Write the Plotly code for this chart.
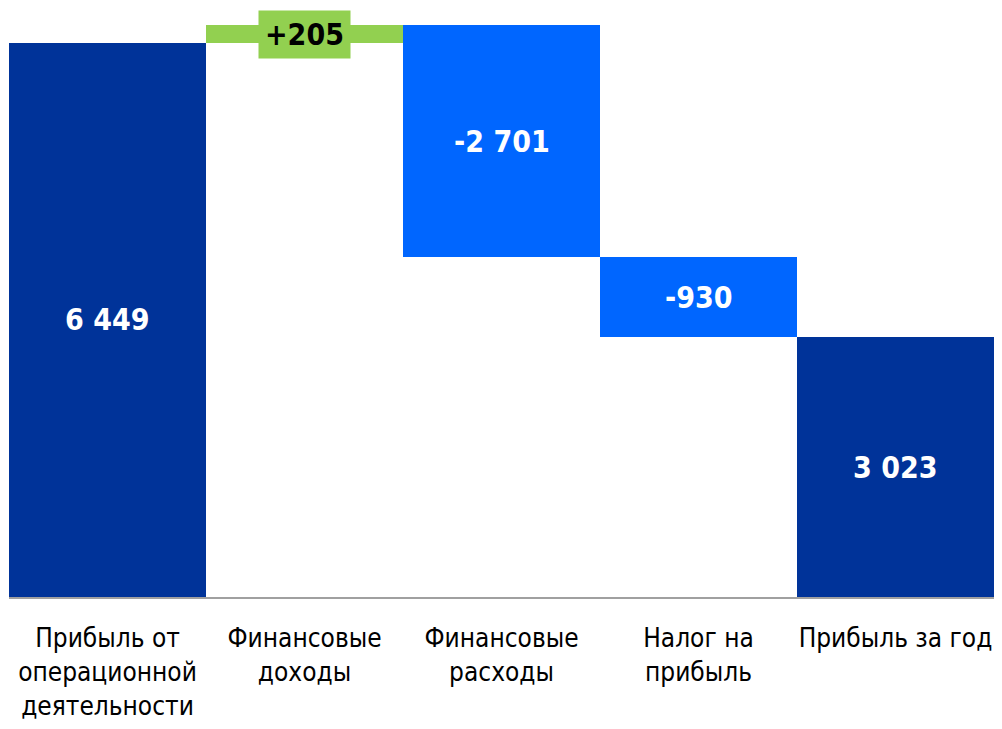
import plotly.graph_objects as go

categories = ["Прибыль от<br>операционной<br>деятельности", "Финансовые<br>доходы",
              "Финансовые<br>расходы", "Налог на<br>прибыль", "Прибыль за год"]
values = [6449, 205, -2701, -930, 3023]
measures = ["absolute", "relative", "relative", "relative", "total"]
labels = ["6 449", "+205", "-2 701", "-930", "3 023"]

FONT = "Liberation Sans Narrow, Arial Narrow, DejaVu Sans Condensed, Liberation Sans, Arial, sans-serif"

fig = go.Figure(go.Waterfall(
    x=categories, y=values, measure=measures,
    increasing=dict(marker=dict(color="#92D050")),
    decreasing=dict(marker=dict(color="#0066FF")),
    totals=dict(marker=dict(color="#003399")),
    connector=dict(visible=False),
    textposition="none",
    hoverinfo="skip",
))

# label positions at bar centres
cum = 0
for i, (c, v, m) in enumerate(zip(categories, values, measures)):
    if m == "absolute":
        lo, hi = 0, v
        cum = v
    elif m == "total":
        lo, hi = 0, cum
    else:
        lo, hi = cum, cum + v
        cum += v
    mid = (lo + hi) / 2
    green = v > 0 and m == "relative"
    fig.add_annotation(
        x=c, y=mid, text="<b>%s</b>" % labels[i], showarrow=False,
        font=dict(family=FONT, size=30, color="black" if green else "white"),
        bgcolor="#92D050" if green else None,
        borderpad=6 if green else 0,
    )

fig.update_layout(
    width=986, height=713,
    margin=dict(l=1, r=0, t=0, b=121),
    paper_bgcolor="white", plot_bgcolor="white",
    waterfallgap=0, showlegend=False,
    font=dict(family=FONT, size=26, color="black"),
    xaxis=dict(showline=True, linecolor="#A0A0A0", linewidth=2, ticks="",
               ticklabelstandoff=17,
               tickfont=dict(family=FONT, size=26, color="black"), showgrid=False),
    yaxis=dict(range=[0, 6854], visible=False, showgrid=False),
)

fig.write_html("out.html")
